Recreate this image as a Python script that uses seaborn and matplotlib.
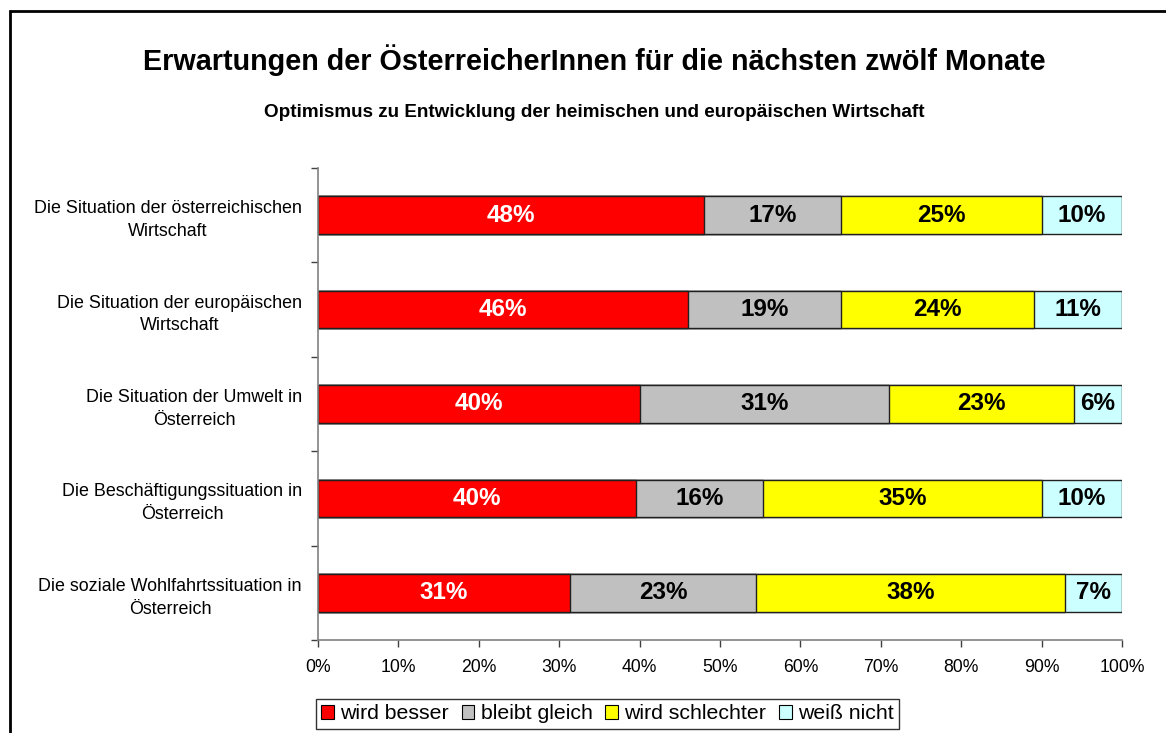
import numpy as np
import pandas as pd
import matplotlib
matplotlib.use("Agg")
import matplotlib.pyplot as plt
import seaborn as sns
from matplotlib.patches import Patch, Rectangle

# --- Daten ---
categories = [
    "Die Situation der österreichischen\nWirtschaft",
    "Die Situation der europäischen\nWirtschaft",
    "Die Situation der Umwelt in\nÖsterreich",
    "Die Beschäftigungssituation in\nÖsterreich",
    "Die soziale Wohlfahrtssituation in\nÖsterreich",
]
series_names = ["wird besser", "bleibt gleich", "wird schlechter", "weiß nicht"]
wird_besser = [48.0, 46.0, 40.0, 39.5, 31.3]
bleibt_gleich = [17.0, 19.0, 31.0, 15.9, 23.2]
wird_schlechter = [25.0, 24.0, 23.0, 34.6, 38.4]
weiss_nicht = [10.0, 11.0, 6.0, 10.0, 7.1]
x_ticks = [0, 10, 20, 30, 40, 50, 60, 70, 80, 90, 100]

colors = ["#FF0000", "#C0C0C0", "#FFFF00", "#CCFFFF"]
label_colors = ["white", "black", "black", "black"]

values = np.array([wird_besser, bleibt_gleich, wird_schlechter, weiss_nicht])
cum = np.cumsum(values, axis=0)

sns.set_style("white")
plt.rcParams["font.family"] = ["Liberation Sans", "DejaVu Sans"]
plt.rcParams["text.color"] = "black"
plt.rcParams["xtick.color"] = "black"
plt.rcParams["ytick.color"] = "black"

fig = plt.figure(figsize=(11.66, 7.33), dpi=100)
ax = fig.add_axes([0.2727, 0.1269, 0.6896, 0.6439])

# gestapelte Balken: kumulierte Summen, von hinten nach vorne gezeichnet
for i in range(len(series_names) - 1, -1, -1):
    df = pd.DataFrame({"Kategorie": categories, "Wert": cum[i]})
    sns.barplot(
        data=df,
        x="Wert",
        y="Kategorie",
        orient="h",
        color=colors[i],
        saturation=1,
        width=0.4,
        edgecolor="#202020",
        linewidth=1,
        ax=ax,
    )

# Beschriftungen in der Mitte jedes Segments
for i in range(len(series_names)):
    for j in range(len(categories)):
        xc = cum[i, j] - values[i, j] / 2
        ax.text(
            xc, j, f"{values[i, j]:.0f}%",
            ha="center", va="center",
            fontsize=17.5, fontweight="bold", color=label_colors[i],
        )

ax.set_xlim(0, 100)
ax.set_ylim(len(categories) - 0.5, -0.5)
ax.set_xticks(x_ticks)
ax.set_xticklabels([f"{t}%" for t in x_ticks], fontsize=12.7)
ax.set_yticks(np.arange(len(categories)))
ax.set_yticklabels(categories, fontsize=12.9, ha="right",
                   multialignment="center", linespacing=1.45)
ax.tick_params(axis="y", which="major", left=False, length=0, pad=11.5)
ax.set_yticks(np.arange(len(categories) + 1) - 0.5, minor=True)
ax.tick_params(axis="y", which="minor", left=True, length=5, width=1,
               color="#404040", direction="out")
ax.tick_params(axis="x", bottom=True, length=5, width=1, color="#404040",
               direction="out", pad=9)
ax.set_xlabel("")
ax.set_ylabel("")

for side in ["top", "right"]:
    ax.spines[side].set_visible(False)
for side in ["left", "bottom"]:
    ax.spines[side].set_color("#808080")
    ax.spines[side].set_linewidth(1.2)

# Titel
fig.text(0.51, 0.918, "Erwartungen der ÖsterreicherInnen für die nächsten zwölf Monate",
         ha="center", va="center", fontsize=20.7, fontweight="bold")
fig.text(0.51, 0.846, "Optimismus zu Entwicklung der heimischen und europäischen Wirtschaft",
         ha="center", va="center", fontsize=13.6, fontweight="bold")

# Legende
handles = [Patch(facecolor=c, edgecolor="black", linewidth=0.8) for c in colors]
leg = fig.legend(
    handles, series_names,
    loc="center", bbox_to_anchor=(0.521, 0.026),
    ncol=4, frameon=True, fancybox=False, fontsize=15.3,
    handlelength=0.6, handleheight=0.6, handletextpad=0.3,
    columnspacing=0.6, borderpad=0.25,
)
leg.get_frame().set_edgecolor("black")
leg.get_frame().set_linewidth(1)

# Rahmen des Diagrammbereichs
fig.patches.append(Rectangle((9.5 / 1166, -0.1), 1.2, 1 - 11 / 733 + 0.1,
                             transform=fig.transFigure, fill=False,
                             edgecolor="black", linewidth=2, zorder=-1))

fig.savefig("out.png", dpi=100)
